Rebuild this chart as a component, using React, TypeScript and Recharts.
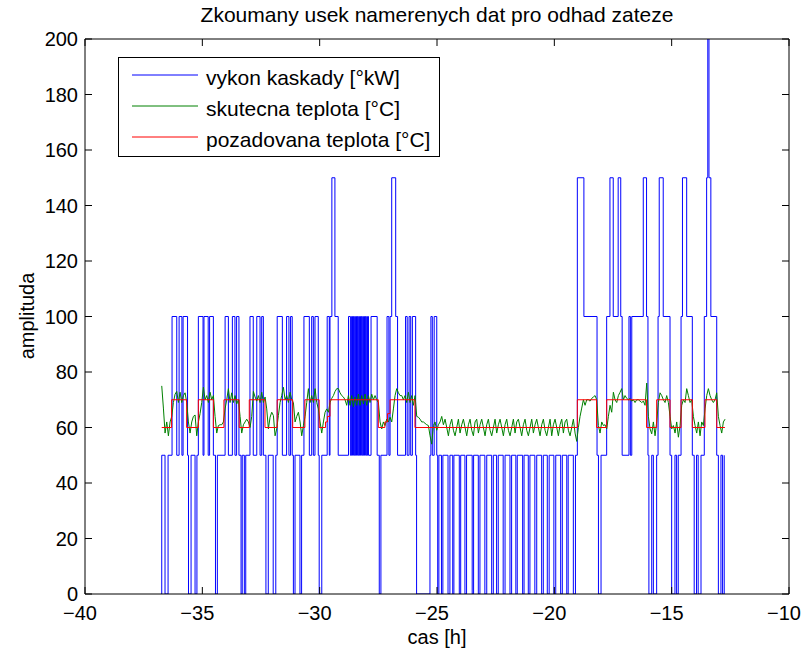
import React from 'react'
import { LineChart, Line, XAxis, YAxis, Legend, Label } from 'recharts'

const xTicks = [-40, -35, -30, -25, -20, -15, -10]
const yTicks = [0, 20, 40, 60, 80, 100, 120, 140, 160, 180, 200]
const seriesNames = ['vykon kaskady [°kW]', 'skutecna teplota [°C]', 'pozadovana teplota [°C]']

// vykon kaskady: [cas h, hodnota], drzi se az do dalsiho bodu
const vykon: [number, number][] = [
  [-36.76, 0], [-36.73, 50], [-36.59, 0], [-36.46, 50], [-36.29, 100], [-36.09, 50], [-35.99, 100], [-35.87, 50],
  [-35.82, 100], [-35.63, 50], [-35.59, 0], [-35.48, 50], [-35.31, 0], [-35.23, 50], [-35.17, 100], [-34.97, 50],
  [-34.93, 100], [-34.75, 50], [-34.69, 100], [-34.53, 50], [-34.44, 0], [-34.36, 50], [-34.03, 100], [-33.89, 50],
  [-33.72, 100], [-33.61, 50], [-33.54, 100], [-33.44, 50], [-33.35, 0], [-33.3, 50], [-33.21, 0], [-33.15, 50],
  [-32.97, 100], [-32.83, 50], [-32.68, 100], [-32.54, 50], [-32.47, 100], [-32.4, 50], [-32.29, 0], [-32.19, 50],
  [-31.98, 0], [-31.87, 50], [-31.81, 100], [-31.59, 50], [-31.41, 100], [-31.31, 50], [-31.24, 100], [-31.17, 50],
  [-31.12, 0], [-31.05, 50], [-30.84, 0], [-30.77, 50], [-30.67, 100], [-30.44, 50], [-30.34, 100], [-30.27, 50],
  [-30.2, 100], [-30.06, 50], [-30.02, 0], [-29.91, 50], [-29.68, 100], [-29.59, 50], [-29.56, 100], [-29.48, 150],
  [-29.35, 100], [-29.21, 50], [-28.77, 100], [-28.69, 50], [-28.64, 100], [-28.6, 50], [-28.56, 100], [-28.52, 50],
  [-28.47, 100], [-28.43, 50], [-28.39, 100], [-28.35, 50], [-28.3, 100], [-28.26, 50], [-28.22, 100], [-28.18, 50],
  [-28.13, 100], [-28.09, 50], [-28.05, 100], [-28.01, 50], [-27.96, 100], [-27.92, 50], [-27.81, 100], [-27.55, 50],
  [-27.46, 0], [-27.39, 50], [-27.13, 100], [-27.05, 50], [-27.0, 100], [-26.93, 150], [-26.76, 100], [-26.68, 50],
  [-26.34, 100], [-26.27, 50], [-26.19, 100], [-26.12, 50], [-26.05, 100], [-25.91, 50], [-25.87, 0], [-25.3, 50],
  [-25.26, 100], [-25.2, 50], [-25.12, 100], [-25.01, 50], [-24.97, 0], [-24.92, 50],
  [-24.81, 0], [-24.75, 50], [-24.53, 0], [-24.45, 50], [-24.33, 0], [-24.28, 50], [-24.05, 0], [-23.99, 50],
  [-23.81, 0], [-23.74, 50], [-23.5, 0], [-23.44, 50], [-23.24, 0], [-23.17, 50], [-22.96, 0], [-22.88, 50],
  [-22.67, 0], [-22.6, 50], [-22.46, 0], [-22.39, 50], [-22.18, 0], [-22.1, 50], [-21.89, 0], [-21.82, 50],
  [-21.64, 0], [-21.58, 50], [-21.35, 0], [-21.29, 50], [-21.11, 0], [-21.04, 50], [-20.83, 0], [-20.75, 50],
  [-20.54, 0], [-20.47, 50], [-20.3, 0], [-20.22, 50], [-20.02, 0], [-19.94, 50], [-19.73, 0], [-19.66, 50],
  [-19.47, 0], [-19.41, 50], [-19.19, 0], [-19.1, 50],
  [-19.02, 150], [-18.74, 100], [-18.18, 50], [-18.12, 0], [-18.01, 50], [-17.77, 100], [-17.63, 150], [-17.49, 100],
  [-17.28, 150], [-17.17, 100], [-17.11, 50], [-16.82, 100], [-16.76, 50], [-16.7, 100], [-16.21, 150], [-16.07, 100],
  [-16.01, 50], [-15.97, 0], [-15.85, 50], [-15.78, 0], [-15.64, 50], [-15.58, 100], [-15.53, 150], [-15.36, 100],
  [-15.07, 50], [-15.0, 0], [-14.86, 50], [-14.79, 0], [-14.72, 50], [-14.6, 100], [-14.54, 150], [-14.36, 100],
  [-14.12, 50], [-14.04, 0], [-13.94, 50], [-13.87, 0], [-13.75, 50], [-13.61, 100], [-13.51, 150], [-13.46, 260],
  [-13.41, 150], [-13.33, 100], [-13.08, 50], [-13.01, 0], [-12.9, 50], [-12.83, 0], [-12.76, 50],
]

// pozadovana teplota: [cas h, hodnota]
const pozadovana: [number, number][] = [
  [-36.73, 60], [-36.31, 70], [-35.67, 60], [-35.17, 70], [-34.53, 60], [-34.08, 70], [-33.43, 60], [-33.0, 70],
  [-32.33, 60], [-31.81, 70], [-31.15, 60], [-30.63, 70], [-30.02, 60], [-29.75, 62], [-29.67, 64], [-29.56, 70],
  [-27.5, 60], [-27.22, 62], [-27.11, 65], [-27.0, 70], [-25.94, 60], [-19.02, 70], [-18.2, 60], [-17.77, 70],
  [-16.07, 60], [-15.64, 70], [-15.07, 60], [-14.6, 70], [-14.12, 60], [-13.58, 70], [-13.08, 60], [-12.73, 60],
]

// skutecna teplota: vzorky s pevnym krokem
const skutecnaStart = -36.73
const skutecnaKrok = 0.07102
const skutecna = [
  75, 67, 58, 62, 57, 62, 64, 69, 72, 73,
  69, 72.7, 69, 71.5, 72.5, 69, 62, 58, 62, 64,
  64.5, 57, 62, 65, 69, 74.5, 70, 71.5, 69, 72.7,
  70, 71.5, 64, 58, 60.7, 61, 61, 62, 66.7, 70,
  74, 69, 72.5, 69, 71.5, 68.5, 70, 64, 58, 61,
  62, 63, 62, 60, 64, 73, 71, 69.5, 71.5, 69,
  72.7, 69, 71, 66.7, 59.5, 63.7, 65.5, 64.3, 57, 59.5,
  64.3, 69, 71.5, 74.5, 70, 71.5, 69, 72.7, 70, 69,
  62, 64, 65.5, 62, 57, 60.7, 64, 69, 74, 69,
  71.5, 69, 74, 69, 66.7, 62, 58, 62, 65.5, 66.7,
  65.5, 69, 70.5, 71.5, 73, 74, 74, 72.5, 71.5, 71,
  70, 68, 71.5, 68, 71.5, 67.5, 71, 68, 72, 68,
  71.5, 68.5, 72, 68, 71.5, 69, 72, 70, 71.5, 70,
  69, 62, 59.5, 62, 60.7, 63, 62, 63.7, 62, 66.7,
  71.5, 74, 72.5, 71.5, 71.5, 70, 71.5, 69, 72.7, 69,
  71.5, 68, 71.5, 64, 63.7, 63, 62, 62, 61.5, 61,
  60.7, 57, 54, 60.7, 62, 59, 61, 62, 64, 61,
  63, 60, 57, 61, 63, 59, 57, 60, 63, 58, 61, 63, 60, 57, 61, 63, 59, 57, 62, 63,
  58, 61, 63, 60, 57, 61, 63, 59, 57, 60, 63, 58, 61, 63, 60, 57, 61, 63, 59, 57,
  60, 63, 58, 62, 63, 60, 57, 61, 63, 59, 57, 60, 63, 58, 61, 63, 60, 57, 61, 63,
  59, 57, 60, 63, 57, 61, 63, 60, 57, 61, 63, 58, 62, 63, 59, 57, 60, 63, 58, 55,
  60, 64, 67, 70,
  68, 70, 70, 69.5, 70.5, 71, 71.5, 70, 60.7, 58,
  62, 60.7, 61, 59.5, 64, 68, 65.5, 72.7, 70, 69,
  71.5, 72.7, 74, 70, 71.5, 70.5, 70, 70.5, 69.5, 70,
  69, 70, 70, 69.5, 69, 69.5, 68, 76, 64, 59.5,
  57.7, 62, 57, 62, 69, 72.5, 71.5, 70, 69, 71.5,
  69, 64, 59.5, 60.7, 58, 62, 56.5, 60.7, 68, 70,
  69, 74, 71.5, 69, 70, 64, 60.7, 58, 62, 57,
  62, 60.7, 66.7, 71.5, 74, 71.5, 70, 69, 70, 72.5,
  64, 60.7, 58, 62, 63,
]

const vykonData = vykon.map(([t, v]) => ({ t, v }))
const pozadovanaData = pozadovana.map(([t, v]) => ({ t, v }))
const skutecnaData = skutecna.map((v, i) => ({ t: skutecnaStart + i * skutecnaKrok, v }))

const font = '"Liberation Sans", Arial, Helvetica, sans-serif'
const minus = (v: number) => String(v).replace('-', '\u2212')
const yTickStyle = { fill: '#000', fontSize: 20, fontFamily: font }
const xTickStyle = { fill: '#000', fontSize: 20, fontFamily: font, dx: -5 }

function LegendBox({ payload }: any) {
  const items = [...(payload || [])].sort(
    (a: any, b: any) => seriesNames.indexOf(a.value) - seriesNames.indexOf(b.value)
  )
  return (
    <svg width={322} height={100} style={{ display: 'block' }}>
      <rect x={0.5} y={0.5} width={321} height={99} fill="#fff" stroke="#000" />
      {items.map((entry: any, i: number) => {
        const y = 18 + i * 31
        return (
          <g key={entry.value}>
            <line x1={14} x2={80} y1={y} y2={y} stroke={entry.color} strokeWidth={1} />
            <text x={88} y={y + 10} fontSize={21} fontFamily={font} fill="#000">{entry.value}</text>
          </g>
        )
      })}
    </svg>
  )
}

export default function App() {
  return (
    <div style={{ position: 'absolute', left: 0, top: 0, background: '#fff' }}>
      <LineChart width={802} height={652} margin={{ top: 38, right: 12, bottom: 0, left: 0 }}>
        <XAxis
          dataKey="t"
          type="number"
          domain={[-40, -10]}
          ticks={xTicks}
          interval={0}
          allowDataOverflow
          height={58}
          tickFormatter={minus}
          tick={xTickStyle}
          tickSize={-7}
          tickMargin={19}
          axisLine={{ stroke: '#000' }}
          tickLine={{ stroke: '#000' }}
        >
          <Label
            content={() => (
              <text x={437} y={644} textAnchor="middle" fontSize={20} fontFamily={font} fill="#000">cas [h]</text>
            )}
          />
        </XAxis>
        <XAxis
          xAxisId="top"
          orientation="top"
          dataKey="t"
          type="number"
          domain={[-40, -10]}
          ticks={xTicks}
          interval={0}
          allowDataOverflow
          height={1}
          tickFormatter={() => ''}
          tickSize={-7}
          axisLine={{ stroke: '#000' }}
          tickLine={{ stroke: '#000' }}
        >
          <Label
            content={() => (
              <text x={437} y={22} textAnchor="middle" fontSize={21} fontFamily={font} fill="#000">
                Zkoumany usek namerenych dat pro odhad zateze
              </text>
            )}
          />
        </XAxis>
        <YAxis
          type="number"
          domain={[0, 200]}
          ticks={yTicks}
          interval={0}
          allowDataOverflow
          width={85}
          tick={yTickStyle}
          tickSize={-7}
          tickMargin={14}
          axisLine={{ stroke: '#000' }}
          tickLine={{ stroke: '#000' }}
        >
          <Label
            content={() => (
              <text x={34} y={316} transform="rotate(-90 34 316)" textAnchor="middle" fontSize={20} fontFamily={font} fill="#000">
                amplituda
              </text>
            )}
          />
        </YAxis>
        <YAxis
          yAxisId="right"
          orientation="right"
          type="number"
          domain={[0, 200]}
          ticks={yTicks}
          interval={0}
          allowDataOverflow
          width={1}
          tickFormatter={() => ''}
          tickSize={-7}
          axisLine={{ stroke: '#000' }}
          tickLine={{ stroke: '#000' }}
        />
        <Legend
          layout="horizontal"
          verticalAlign="middle"
          align="center"
          wrapperStyle={{ left: 118, top: 57, width: 322, height: 100 }}
          content={<LegendBox />}
        />
        <Line
          data={vykonData}
          dataKey="v"
          name={seriesNames[0]}
          type="stepAfter"
          stroke="#0000ff"
          strokeWidth={1}
          dot={false}
          isAnimationActive={false}
        />
        <Line
          data={skutecnaData}
          dataKey="v"
          name={seriesNames[1]}
          type="linear"
          stroke="#008000"
          strokeWidth={1}
          dot={false}
          isAnimationActive={false}
        />
        <Line
          data={pozadovanaData}
          xAxisId="top"
          yAxisId="right"
          dataKey="v"
          name={seriesNames[2]}
          type="stepAfter"
          stroke="#ff0000"
          strokeWidth={1}
          dot={false}
          isAnimationActive={false}
        />
      </LineChart>
    </div>
  )
}
